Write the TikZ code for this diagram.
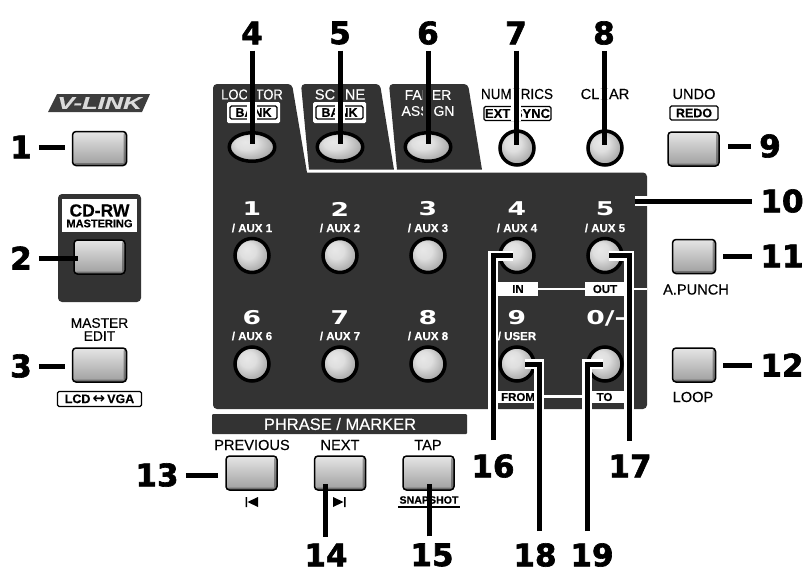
\documentclass[tikz,border=0pt]{standalone}
\usepackage{fontspec}
\setmainfont{Liberation Sans}[FakeBold=0.3]
\newfontfamily\djv{DejaVu Sans}
\newfontfamily\djvheavy[FakeBold=2]{DejaVu Sans Bold}
\usetikzlibrary{shapes.geometric,calc}
\definecolor{panel}{HTML}{333333}
\definecolor{knobhi}{HTML}{E8E8E8}
\definecolor{knoblo}{HTML}{A8A8A8}
\pgfdeclareradialshading{knobshade}{\pgfpoint{-8bp}{9bp}}{color(0bp)=(knobhi);color(12bp)=(knobhi!85!knoblo);color(28bp)=(knoblo);color(50bp)=(knoblo)}
\tikzset{
  bignum/.style={inner sep=0pt,font=\djvheavy\fontsize{31}{31}\selectfont,text=black},
  lead/.style={draw=black,line width=5pt,shorten <=7pt,shorten >=7pt},
  haloW/.style={preaction={draw=white,line width=10pt}},
  gapD/.style={draw=panel,line width=10pt},
  gapW/.style={draw=white,line width=10pt},
  btn/.style={draw=black,line width=1.5pt,rounded corners=3.5pt,top color=black!10,bottom color=black!38,minimum width=51pt,minimum height=34pt,inner sep=0pt,
    path picture={\fill[black,opacity=.35] (path picture bounding box.north east) rectangle ([xshift=-3pt]path picture bounding box.south east);
    \fill[black,opacity=.3] (path picture bounding box.south west) rectangle ([yshift=2.5pt]path picture bounding box.south east);}},
  knob/.style={circle,draw=black,line width=3.5pt,shading=knobshade,minimum size=34pt,inner sep=0pt},
  oval/.style={ellipse,draw=black,line width=3.5pt,shading=knobshade,minimum width=45.5pt,minimum height=28.5pt,inner sep=0pt},
  captxt/.style={inner sep=0pt,font=\fontsize{14.6}{14.6}\selectfont,text=black},
  capw/.style={captxt,text=white},
  keyno/.style={inner sep=0pt,text=white,font=\djv\bfseries\fontsize{19}{19}\selectfont,xscale=1.4,transform shape},
  aux/.style={inner sep=0pt,text=white,font=\bfseries\fontsize{11.5}{11.5}\selectfont},
  subbox/.style={draw=black,line width=1.3pt,fill=white,rounded corners=1.5pt,inner sep=0pt,font=\bfseries\fontsize{12.5}{12.5}\selectfont,text=black},
  whitebox/.style={fill=white,inner sep=0pt,font=\bfseries\fontsize{11.5}{11.5}\selectfont,text=black},
  wline/.style={draw=white,line width=2.5pt},
}
\begin{document}
\begin{tikzpicture}[x=1pt,y=-1pt]
\useasboundingbox (0,0) rectangle (812,573);
% ---- panels
\fill[panel] (307,172.5) [rounded corners=4pt] -- (647,172.5) -- (647,409) -- (213,409) -- (213,84) -- (292,84) [sharp corners] -- cycle;
\fill[panel] (309,169.7) [rounded corners=4pt] -- (301,84) -- (380,84) [sharp corners] -- (394,169.7) -- cycle;
\fill[panel] (397,169.7) [rounded corners=4pt] -- (389,84) -- (468,84) [sharp corners] -- (482,169.7) -- cycle;
\fill[panel,rounded corners=4pt] (58,194) rectangle (141,302);
\fill[rounded corners=1pt,panel] (212,414) rectangle (467,434);
\fill[panel!95!white] (57,94) -- (150,94) -- (142,112) -- (48,112) -- cycle;
% ---- V-LINK, left column
\node[inner sep=0pt,text=black!14,font=\bfseries\itshape\fontsize{17}{17}\selectfont,xscale=1.5,transform shape] (vlink) at (99.5,103) {V-LINK};
\node[fill=white,minimum width=75pt,minimum height=33pt,inner sep=0pt] (cdbox) at (99.5,215.5) {};
\node[inner sep=0pt,font=\bfseries\fontsize{17.5}{17.5}\selectfont] (cdrw) at (99.5,210.5) {CD-RW};
\node[inner sep=0pt,font=\bfseries\fontsize{11}{11}\selectfont] (cdm) at (99.5,223.5) {MASTERING};
\node[captxt,font=\fontsize{13.8}{13.8}\selectfont] (medit1) at (99.5,323) {MASTER};
\node[captxt,font=\fontsize{13.8}{13.8}\selectfont] (medit2) at (99.5,336) {EDIT};
\node[subbox,minimum width=84pt,minimum height=15pt] (lcd) at (99.5,399) {LCD\,\raisebox{-0.5pt}{\djv\fontsize{15}{10}\selectfont ↔}\,VGA};
\node[btn,minimum width=54pt] (b1) at (99.5,148.5) {};
\node[btn] (b2) at (99.5,257) {};
\node[btn,minimum width=54pt] (b3) at (99.5,365) {};
% ---- top row
\node[capw,font=\fontsize{13}{13}\selectfont,yscale=1.1,transform shape] (tloc) at (252,94.5) {LOCATOR};
\node[fill=white,rounded corners=1.5pt,minimum width=53pt,minimum height=21pt,inner sep=0pt] (wloc) at (253.5,112.5) {};
\node[subbox,minimum width=47pt,minimum height=13pt] (bloc) at (253.5,112.5) {BANK};
\node[capw] (tsce) at (340,94.5) {SCENE};
\node[fill=white,rounded corners=1.5pt,minimum width=53pt,minimum height=21pt,inner sep=0pt] (wsce) at (339.5,112.5) {};
\node[subbox,minimum width=47pt,minimum height=13pt] (bsce) at (339.5,112.5) {BANK};
\node[capw,font=\fontsize{14}{14}\selectfont] (tfad) at (428,95) {FADER};
\node[capw,font=\fontsize{14}{14}\selectfont] (tass) at (428,111) {ASSIGN};
\node[captxt,font=\fontsize{13.5}{13.5}\selectfont,yscale=1.08,transform shape] (tnum) at (517,94) {NUMERICS};
\node[subbox,font=\bfseries\fontsize{13}{13}\selectfont,minimum width=67pt,minimum height=14pt] (bext) at (517.5,113.5) {EXT SYNC};
\node[captxt] (tclr) at (605,94) {CLEAR};
\node[captxt] (tund) at (694,94) {UNDO};
\node[subbox,minimum width=48pt,minimum height=14pt] (bred) at (694,113) {REDO};
\node[oval] (k4) at (252,147) {};
\node[oval] (k5) at (340,147) {};
\node[oval] (k6) at (428,147) {};
\node[knob] (k7) at (517,148) {};
\node[knob] (k8) at (605,148) {};
\node[btn] (b9) at (693.5,149) {};
% ---- key labels
\node[keyno] (d1) at (252,209) {1};
\node[aux] (a1) at (252,228) {/ AUX 1};
\node[keyno] (d2) at (340,209) {2};
\node[aux] (a2) at (340,228) {/ AUX 2};
\node[keyno] (d3) at (428,209) {3};
\node[aux] (a3) at (428,228) {/ AUX 3};
\node[keyno] (d4) at (517,209) {4};
\node[aux] (a4) at (517,228) {/ AUX 4};
\node[keyno] (d5) at (605,209) {5};
\node[aux] (a5) at (605,228) {/ AUX 5};
\node[keyno] (d6) at (252,318) {6};
\node[aux] (a6) at (252,336) {/ AUX 6};
\node[keyno] (d7) at (340,318) {7};
\node[aux] (a7) at (340,336) {/ AUX 7};
\node[keyno] (d8) at (428,318) {8};
\node[aux] (a8) at (428,336) {/ AUX 8};
\node[keyno] (d9) at (517,318) {9};
\node[aux] (a9) at (517,336) {/ USER};
\node[keyno] (d0) at (606,318) {0/-};
% ---- IN/OUT, FROM/TO
\draw[wline] (538,289) -- (647,289);
\draw[wline] (540,396.5) -- (585,396.5);
\node[whitebox,minimum width=40pt,minimum height=14pt] (tin) at (518,289) {IN};
\node[whitebox,minimum width=40pt,minimum height=14pt] (tout) at (605,289) {OUT};
\node[whitebox,minimum width=40pt,minimum height=12.5pt] (tfrom) at (518,397) {FROM};
\node[whitebox,minimum width=39pt,minimum height=12.5pt] (tto) at (604.5,397) {TO};
% ---- knobs
\node[knob] (k1) at (252,255.5) {};
\node[knob] (k2) at (340,255.5) {};
\node[knob] (k3) at (428,255.5) {};
\node[knob] (k16) at (517,255.5) {};
\node[knob] (k17) at (605,255.5) {};
\node[knob] (k6b) at (252,364) {};
\node[knob] (k7b) at (340,364) {};
\node[knob] (k8b) at (428,364) {};
\node[knob] (k18) at (517,364) {};
\node[knob] (k19) at (605,364) {};
% ---- right column
\node[btn,minimum width=43pt] (b11) at (694,256.5) {};
\node[captxt] (tpun) at (696,289.5) {A.PUNCH};
\node[btn,minimum width=43pt] (b12) at (694,365) {};
\node[captxt] (tlop) at (693,397) {LOOP};
% ---- phrase/marker
\node[capw,font=\fontsize{16.5}{16.5}\selectfont] (tphr) at (340,424) {PHRASE / MARKER};
\node[captxt] (tprv) at (252,445) {PREVIOUS};
\node[captxt] (tnxt) at (340,445) {NEXT};
\node[captxt] (ttap) at (428,445) {TAP};
\node[btn] (b13) at (251.5,473) {};
\node[btn] (b14) at (340,473) {};
\node[btn] (b15) at (428.5,473) {};
\fill (245.5,497) rectangle (247,507) (247.5,502) -- (258,497) -- (258,507) -- cycle;
\fill (345.5,497) rectangle (344,507) (343.5,502) -- (333,497) -- (333,507) -- cycle;
\node[inner sep=0pt,font=\bfseries\fontsize{10.6}{10.6}\selectfont] (tsnap) at (429,500) {SNAPSHOT};
\draw[line width=1.3pt] (398,507) -- (460,507);
% ---- big numbers
\node[bignum] (n1) at (21,147) {1};
\node[bignum] (n2) at (21,258) {2};
\node[bignum] (n3) at (21,366) {3};
\node[bignum] (n4) at (252,33) {4};
\node[bignum] (n5) at (340,33) {5};
\node[bignum] (n6) at (428,33) {6};
\node[bignum] (n7) at (516,33) {7};
\node[bignum] (n8) at (604,33) {8};
\node[bignum] (n9) at (770,146) {9};
\node[bignum] (n10) at (782,201) {10};
\node[bignum] (n11) at (782,256) {11};
\node[bignum] (n12) at (782,365) {12};
\node[bignum] (n13) at (157,475) {13};
\node[bignum] (n14) at (326,555) {14};
\node[bignum] (n15) at (432,555) {15};
\node[bignum] (n16) at (493,466) {16};
\node[bignum] (n17) at (630,466) {17};
\node[bignum] (n18) at (535,555) {18};
\node[bignum] (n19) at (592,555) {19};
% ---- gaps cut in the printed words behind the top leaders
\draw[gapD] (n4.south |- tloc.north) -- (n4.south |- wloc.north);
\draw[gapW] (n4.south |- wloc.north) -- (n4.south |- wloc.south);
\draw[gapD] (n5.south |- tsce.north) -- (n5.south |- wsce.north);
\draw[gapW] (n5.south |- wsce.north) -- (n5.south |- wsce.south);
\draw[gapD] (n6.south |- tfad.north) -- (n6.south |- tass.south);
\draw[gapW] (n7.south |- tnum.north) -- (n7.south |- bext.south);
\draw[gapW] (n8.south |- tclr.north) -- (n8.south |- tclr.south);
% ---- connectors
\draw[lead] (n1.east) -- (n1.east -| b1.west);
\draw[lead,shorten >=-5pt] (n2.east) -- (n2.east -| b2.west);
\draw[lead] (n3.east) -- (n3.east -| b3.west);
\draw[lead,shorten <=6pt,shorten >=3pt] (n4.south) -- (k4.center);
\draw[lead,shorten <=6pt,shorten >=3pt] (n5.south) -- (k5.center);
\draw[lead,shorten <=6pt,shorten >=3pt] (n6.south) -- (k6.center);
\draw[lead,shorten <=6pt,shorten >=3pt] (n7.south) -- (n7.south |- k7.center);
\draw[lead,shorten <=6pt,shorten >=3pt] (n8.south) -- (n8.south |- k8.center);
\draw[lead,shorten <=8pt,shorten >=8pt] (n9.west) -- (n9.west -| b9.east);
\coordinate (e10) at (635,201);
\draw[lead,haloW,shorten <=8pt,shorten >=0pt] (n10.west) -- (e10);
\draw[lead,shorten <=8pt,shorten >=7pt] (n11.west) -- (n11.west -| b11.east);
\draw[lead,shorten <=8pt,shorten >=7pt] (n12.west) -- (n12.west -| b12.east);
\draw[lead] (n13.east) -- (n13.east -| b13.west);
\draw[lead,shorten <=7pt,shorten >=11pt] ([xshift=-1pt]n14.north) -- ([xshift=-1pt]n14.north |- b14.center);
\draw[lead,shorten <=7pt,shorten >=11pt] ([xshift=-3pt]n15.north) -- ([xshift=-3pt]n15.north |- b15.center);
\draw[lead,haloW,shorten <=14pt,shorten >=4pt] (n16.north) |- (k16.center);
\draw[lead,haloW,shorten <=14pt,shorten >=4pt] ([xshift=-1pt]n17.north) |- (k17.center);
\draw[lead,haloW,shorten <=12pt,shorten >=8pt] ([xshift=4pt]n18.north) |- (k18.center);
\draw[lead,haloW,shorten <=12pt,shorten >=2pt] ([xshift=-5pt]n19.north) |- (k19.center);
\end{tikzpicture}
\end{document}
